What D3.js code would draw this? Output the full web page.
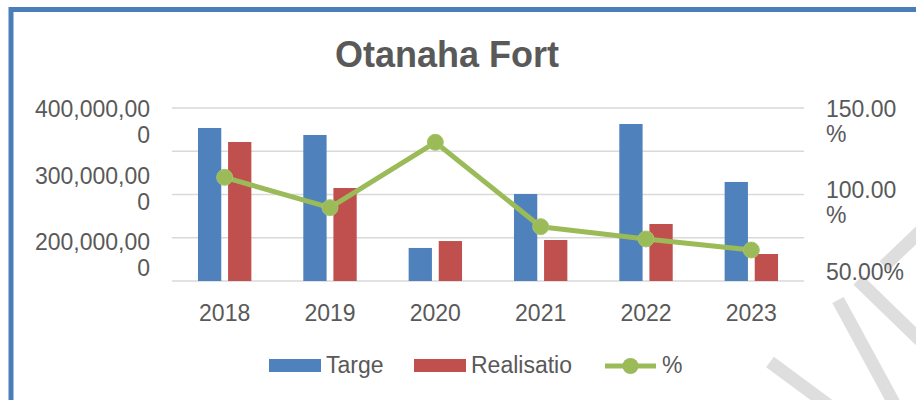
<!DOCTYPE html>
<html>
<head>
<meta charset="utf-8">
<script src="https://cdn.jsdelivr.net/npm/d3@7"></script>
<style>
  html, body { margin: 0; padding: 0; background: #fff; }
  svg { display: block; }
  text { font-family: "Liberation Sans", Arial, sans-serif; fill: #595959; }
</style>
</head>
<body>
<svg id="chart" width="916" height="400"></svg>
<script>
// ---- data ----
const years = ["2018", "2019", "2020", "2021", "2022", "2023"];
const target = [376.9e6, 368.8e6, 238.2e6, 300.6e6, 381.5e6, 314.5e6];
const realisation = [360.7e6, 307.5e6, 246.2e6, 247.4e6, 265.9e6, 231.2e6];
const percent = [1.099, 0.924, 1.302, 0.814, 0.743, 0.679];
const leftTickLabels = [400e6, 300e6, 200e6];
const rightTickLabels = [1.5, 1.0, 0.5];
const seriesNames = ["Targe", "Realisatio", "%"];
const title = "Otanaha Fort";

// ---- layout ----
const svg = d3.select("#chart");
const plot = { left: 172, right: 804, top: 108, bottom: 281 };
const colors = { t: "#4f81bd", r: "#c0504d", p: "#9bbb59", grid: "#d9d9d9", border: "#4a7ebb" };

// border
svg.append("rect").attr("x", 11).attr("y", 9.5).attr("width", 1000).attr("height", 1000)
  .attr("fill", "none").attr("stroke", colors.border).attr("stroke-width", 5);

// watermark stripes (decoration)
const stripes = [[770,362,835,410],[838,300,895,405],[858,280,925,345],[884,266,930,222]];
svg.append("g").selectAll("line").data(stripes).join("line")
  .attr("x1", d => d[0]).attr("y1", d => d[1]).attr("x2", d => d[2]).attr("y2", d => d[3])
  .attr("stroke", "#dedede").attr("stroke-width", 13);

// title
svg.append("text").attr("x", 447).attr("y", 67).attr("text-anchor", "middle")
  .style("font-size", "36px").style("font-weight", "bold").text(title);

// scales
const yL = d3.scaleLinear().domain([200e6, 400e6]).range([plot.bottom, plot.top]);
const yR = d3.scaleLinear().domain([0.5, 1.5]).range([plot.bottom, plot.top]);
const x0 = d3.scaleBand().domain(years).range([plot.left, plot.right]);
const x1 = d3.scaleBand().domain(["t", "r"]).range([0, x0.bandwidth()])
  .paddingInner(0.226).paddingOuter(0.863);

// gridlines (major unit 50,000,000)
const gridVals = d3.range(200e6, 400e6 + 1, 50e6);
svg.append("g").selectAll("line").data(gridVals).join("line")
  .attr("x1", plot.left).attr("x2", plot.right)
  .attr("y1", d => yL(d)).attr("y2", d => yL(d))
  .attr("stroke", colors.grid).attr("stroke-width", 1.5);

// bars
const rows = years.map((y, i) => ({ year: y, t: target[i], r: realisation[i], p: percent[i] }));
const g = svg.append("g");
["t", "r"].forEach(k => {
  g.selectAll("rect." + k).data(rows).join("rect").attr("class", k)
    .attr("x", d => x0(d.year) + x1(k))
    .attr("width", x1.bandwidth())
    .attr("y", d => yL(d[k]))
    .attr("height", d => yL.range()[0] - yL(d[k]))
    .attr("fill", colors[k]);
});

// line
const cx = d => x0(d.year) + x0.bandwidth() / 2;
svg.append("path").datum(rows)
  .attr("d", d3.line().x(cx).y(d => yR(d.p)))
  .attr("fill", "none").attr("stroke", colors.p).attr("stroke-width", 5)
  .attr("stroke-linejoin", "round");
svg.append("g").selectAll("circle").data(rows).join("circle")
  .attr("cx", cx).attr("cy", d => yR(d.p)).attr("r", 8)
  .attr("fill", colors.p).attr("stroke", "#a6c46c").attr("stroke-width", 1);

// x-axis labels
svg.append("g").selectAll("text").data(years).join("text")
  .attr("x", d => x0(d) + x0.bandwidth() / 2).attr("y", 321)
  .attr("text-anchor", "middle").style("font-size", "23px").text(d => d);

// left axis labels (wrapped like the original)
const fmtL = d3.format(",");
const leftPitch = 66.5, lineH = 26;
const lg = svg.append("g");
leftTickLabels.forEach((v, i) => {
  const s = fmtL(v);
  const t = lg.append("text").attr("text-anchor", "end").style("font-size", "23px");
  const y0 = yL(leftTickLabels[0]) + 9 + i * leftPitch;
  t.append("tspan").attr("x", 150).attr("y", y0).text(s.slice(0, 10));
  t.append("tspan").attr("x", 150).attr("y", y0 + lineH).text(s.slice(10));
});

// right axis labels
const fmtR = d3.format(".2%");
const rightPitch = 81.5;
const rg = svg.append("g");
rightTickLabels.forEach((v, i) => {
  const s = fmtR(v);
  const t = rg.append("text").attr("text-anchor", "start").style("font-size", "23px");
  const y0 = yR(rightTickLabels[0]) + 8.5 + i * rightPitch;
  if (s.length > 6) {
    t.append("tspan").attr("x", 826).attr("y", y0).text(s.slice(0, s.length - 1));
    t.append("tspan").attr("x", 826).attr("y", y0 + 25).text(s.slice(-1));
  } else {
    t.append("tspan").attr("x", 826).attr("y", y0).text(s);
  }
});

// legend
const legX = [269, 414, 605];
const leg = svg.append("g");
seriesNames.forEach((name, i) => {
  const x = legX[i];
  if (i < 2) {
    leg.append("rect").attr("x", x).attr("y", 359).attr("width", 52).attr("height", 13)
      .attr("fill", i === 0 ? colors.t : colors.r);
  } else {
    leg.append("line").attr("x1", x).attr("x2", x + 51).attr("y1", 366).attr("y2", 366)
      .attr("stroke", colors.p).attr("stroke-width", 5);
    leg.append("circle").attr("cx", x + 25.5).attr("cy", 366).attr("r", 8).attr("fill", colors.p);
  }
  leg.append("text").attr("x", x + 57).attr("y", 373)
    .style("font-size", "23px").text(name);
});
</script>
</body>
</html>
